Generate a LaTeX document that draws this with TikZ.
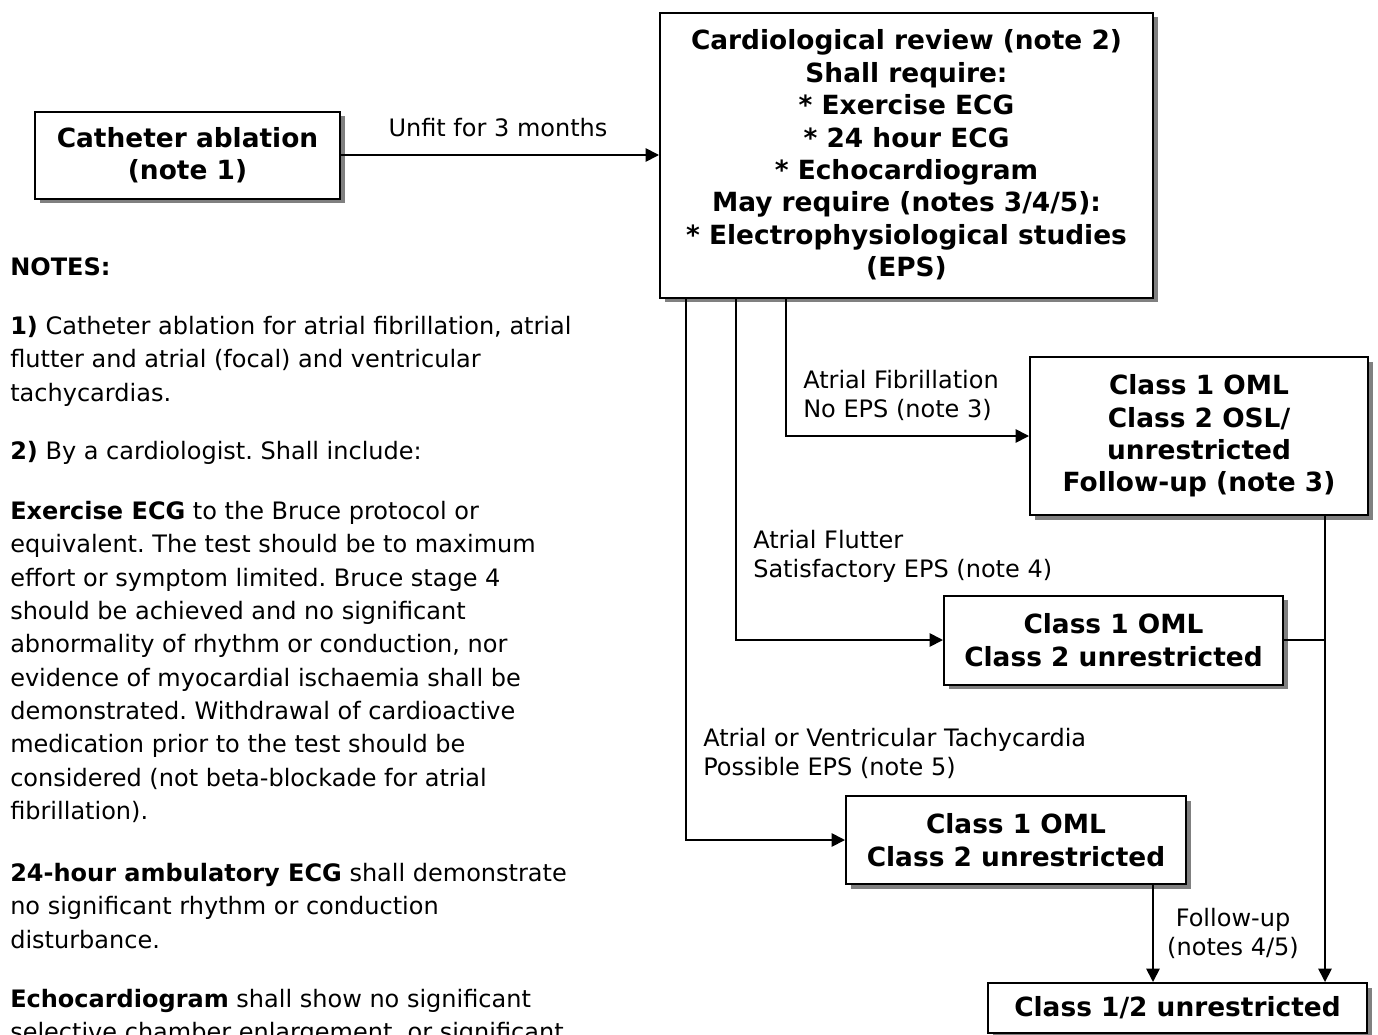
\documentclass[tikz,border=0pt]{standalone}
\usepackage{fontspec}
\setmainfont{DejaVu Sans}
\usetikzlibrary{arrows.meta,shadows}
\frenchspacing
\begin{document}
\begin{tikzpicture}[x=0.75pt,y=-0.75pt,
  box/.style={draw,line width=1.5pt,fill=white,inner sep=0pt,align=center,
    font=\fontsize{19.8}{24.3}\selectfont\bfseries,
    drop shadow={shadow xshift=3.5pt,shadow yshift=-3.5pt,fill=black!50,opacity=1}},
  lbl/.style={inner sep=0pt,align=left,font=\fontsize{18}{21.8}\selectfont},
  note/.style={inner sep=0pt,anchor=north west,align=left,font=\fontsize{18}{25}\selectfont},
  conn/.style={line width=1.3pt},
  arr/.style={conn,-{Triangle[length=10pt,width=10pt]}}]
\useasboundingbox (0,0) rectangle (1378,1035);
\clip (0,0) rectangle (1378,1035);

% boxes
\node[box,minimum width=228.75pt,minimum height=65.25pt] (cath) at (187.5,155)
  {Catheter ablation\\(note 1)};
\node[box,minimum width=369.75pt,minimum height=213.75pt] (review) at (906.5,155)
  {Cardiological review (note 2)\\Shall require:\\* Exercise ECG\\* 24 hour ECG\\* Echocardiogram\\May require (notes 3/4/5):\\* Electrophysiological studies\\(EPS)};
\node[box,minimum width=253.5pt,minimum height=118.5pt] (af) at (1199,436)
  {Class 1 OML\\Class 2 OSL/\\unrestricted\\Follow-up (note 3)};
\node[box,minimum width=254.25pt,minimum height=66.75pt] (afl) at (1113.5,640)
  {Class 1 OML\\Class 2 unrestricted};
\node[box,minimum width=255pt,minimum height=66pt] (at) at (1016,840)
  {Class 1 OML\\Class 2 unrestricted};
\node[box,minimum width=284.25pt,minimum height=37.5pt] (final) at (1177.5,1008)
  {Class 1/2 unrestricted};

% helper x positions
\coordinate (x686) at (686,0);
\coordinate (x736) at (736,0);
\coordinate (x786) at (786,0);
\coordinate (x1153) at (1153,0);
\coordinate (x1325) at (1325,0);

% connectors
\draw[arr] (cath.east) -- (review.west);
\draw[arr] (review.south west -| x786) |- (af.west);
\draw[arr] (review.south west -| x736) |- (afl.west);
\draw[arr] (review.south west -| x686) |- (at.west);
\draw[arr] (at.south -| x1153) -- (final.north -| x1153);
\draw[arr] (af.south -| x1325) -- (final.north -| x1325);
\draw[conn] (afl.east) -- (afl.east -| x1325);

% connector labels
\node[lbl] (lunfit) at (498,128) {Unfit for 3 months};
\node[lbl,anchor=west] (laf) at (803,395.5) {Atrial Fibrillation\\No EPS (note 3)};
\node[lbl,anchor=west] (lafl) at (753,556.5) {Atrial Flutter\\Satisfactory EPS (note 4)};
\node[lbl,anchor=west] (lat) at (703,753) {Atrial or Ventricular Tachycardia\\Possible EPS (note 5)};
\node[lbl,align=center] (lfu) at (1233,933.5) {Follow-up\\(notes 4/5)};

% notes
\node[note] (nhead) at (10,257) {\textbf{NOTES:}};
\node[note] (n1) at (10,316) {\textbf{1)} Catheter ablation for atrial fibrillation, atrial\\flutter and atrial (focal) and ventricular\\tachycardias.};
\node[note] (n2) at (10,441) {\textbf{2)} By a cardiologist. Shall include:};
\node[note] (n3) at (10,501) {\textbf{Exercise ECG} to the Bruce protocol or\\equivalent. The test should be to maximum\\effort or symptom limited. Bruce stage 4\\should be achieved and no significant\\abnormality of rhythm or conduction, nor\\evidence of myocardial ischaemia shall be\\demonstrated. Withdrawal of cardioactive\\medication prior to the test should be\\considered (not beta-blockade for atrial\\fibrillation).};
\node[note] (n4) at (10,863) {\textbf{24-hour ambulatory ECG} shall demonstrate\\no significant rhythm or conduction\\disturbance.};
\node[note] (n5) at (10,989) {\textbf{Echocardiogram} shall show no significant\\selective chamber enlargement, or significant};
\end{tikzpicture}
\end{document}
